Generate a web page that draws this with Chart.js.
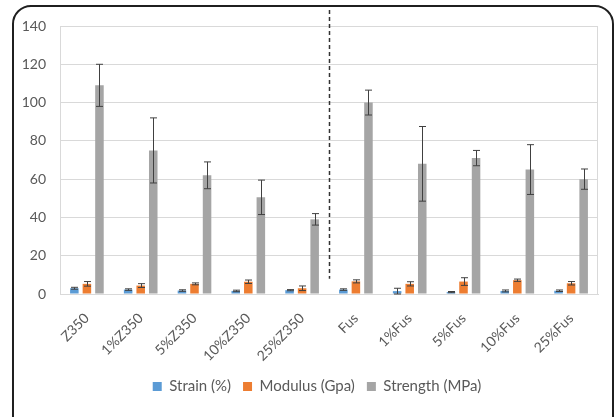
<!DOCTYPE html>
<html>
<head>
<meta charset="utf-8">
<script src="https://cdn.jsdelivr.net/npm/chart.js@4"></script>
<style>
  html, body { margin: 0; padding: 0; background: #fff; }
  #wrap { width: 616px; height: 417px; }
</style>
</head>
<body>
<div id="wrap"><canvas id="chart" width="616" height="417"></canvas></div>
<script>
    // Data
    const categories = ['Z350', '1%Z350', '5%Z350', '10%Z350', '25%Z350', 'Fus', '1%Fus', '5%Fus', '10%Fus', '25%Fus'];
    const strain = [3.0, 2.3, 1.8, 1.6, 2.0, 2.3, 1.5, 1.0, 1.6, 1.7];
    const strainErr = [0.5, 0.4, 0.4, 0.4, 0.3, 0.4, 1.5, 0.3, 0.5, 0.4];
    const modulus = [5.3, 4.4, 5.3, 6.4, 3.0, 6.6, 5.3, 6.5, 7.2, 5.6];
    const modulusErr = [1.2, 1.0, 0.5, 0.9, 1.2, 0.8, 1.1, 2.0, 0.6, 0.9];
    const strength = [109, 75, 62, 50.5, 39, 100, 68, 71, 65, 60];
    const strengthErr = [11, 17, 7, 9, 3, 6.5, 19.5, 4, 13, 5.3];
    const yTicks = [0, 20, 40, 60, 80, 100, 120, 140];

    const errors = [strainErr, modulusErr, strengthErr];
    const textColor = '#595959';
    const fontFamily = 'Lato, "Open Sans", sans-serif';

    // Frame, plot border, error bars and divider line
    const decorations = {
        id: 'decorations',
        beforeDraw(chart) {
            const ctx = chart.ctx;
            ctx.save();
            ctx.fillStyle = '#fff';
            ctx.fillRect(0, 0, chart.width, chart.height);
            ctx.strokeStyle = '#1f1f1f';
            ctx.lineWidth = 2;
            ctx.beginPath();
            ctx.roundRect(13, 6, 600, 430, 18);
            ctx.stroke();
            ctx.restore();
        },
        afterDatasetsDraw(chart) {
            const ctx = chart.ctx;
            const a = chart.chartArea;
            const y = chart.scales.y;
            const x = chart.scales.x;
            ctx.save();
            ctx.strokeStyle = '#d9d9d9';
            ctx.lineWidth = 1;
            ctx.strokeRect(a.left + 0.5, a.top + 0.5, a.right - a.left - 1, a.bottom - a.top);

            ctx.strokeStyle = '#404040';
            ctx.lineWidth = 1;
            errors.forEach((err, i) => {
                const meta = chart.getDatasetMeta(i);
                const vals = chart.data.datasets[i].data;
                meta.data.forEach((bar, j) => {
                    const top = y.getPixelForValue(vals[j] + err[j]);
                    const bot = y.getPixelForValue(Math.max(0, vals[j] - err[j]));
                    const cx = Math.round(bar.x) + 0.5;
                    ctx.beginPath();
                    ctx.moveTo(cx, top);
                    ctx.lineTo(cx, bot);
                    ctx.moveTo(cx - 3.5, top);
                    ctx.lineTo(cx + 3.5, top);
                    ctx.moveTo(cx - 3.5, bot);
                    ctx.lineTo(cx + 3.5, bot);
                    ctx.stroke();
                });
            });

            // dashed separator between the two groups
            const dx = Math.round((x.getPixelForValue(4) + x.getPixelForValue(5)) / 2) + 0.5;
            ctx.strokeStyle = '#333';
            ctx.lineWidth = 1.5;
            ctx.setLineDash([4, 3]);
            ctx.beginPath();
            ctx.moveTo(dx, 10);
            ctx.lineTo(dx, y.getPixelForValue(8));
            ctx.stroke();
            ctx.restore();
        }
    };

    const ctx = document.getElementById('chart').getContext('2d');
    new Chart(ctx, {
        type: 'bar',
        data: {
            labels: categories,
            datasets: [
                { label: 'Strain (%)', data: strain, backgroundColor: '#5B9BD5' },
                { label: 'Modulus (Gpa)', data: modulus, backgroundColor: '#ED7D31' },
                { label: 'Strength (MPa)', data: strength, backgroundColor: '#A5A5A5' }
            ]
        },
        options: {
            responsive: false,
            animation: false,
            devicePixelRatio: 1,
            categoryPercentage: 0.7,
            barPercentage: 0.68,
            layout: { padding: { top: 26, right: 0, bottom: 13, left: 18 } },
            scales: {
                x: {
                    grid: { display: false },
                    border: { color: '#d9d9d9' },
                    ticks: {
                        color: textColor,
                        font: { family: fontFamily, size: 14 },
                        minRotation: 45,
                        maxRotation: 45,
                        padding: 8
                    },
                    afterFit(scale) { scale.height = 73; }
                },
                y: {
                    min: 0,
                    max: 140,
                    afterBuildTicks(scale) {
                        scale.ticks = yTicks.map(v => ({ value: v }));
                    },
                    grid: { color: '#d9d9d9', drawTicks: false },
                    border: { display: false },
                    ticks: {
                        color: textColor,
                        font: { family: fontFamily, size: 14 },
                        padding: 14
                    },
                    afterFit(scale) { scale.width = 42; }
                },
                // empty right-hand axis that only reserves margin
                yRight: {
                    position: 'right',
                    display: true,
                    grid: { display: false },
                    border: { display: false },
                    ticks: { display: false },
                    afterFit(scale) { scale.width = 18; }
                }
            },
            plugins: {
                legend: {
                    position: 'bottom',
                    labels: {
                        color: textColor,
                        font: { family: fontFamily, size: 15 },
                        boxWidth: 9,
                        boxHeight: 9,
                        padding: 12
                    }
                },
                tooltip: { enabled: false }
            }
        },
        plugins: [decorations]
    });
</script>
</body>
</html>
